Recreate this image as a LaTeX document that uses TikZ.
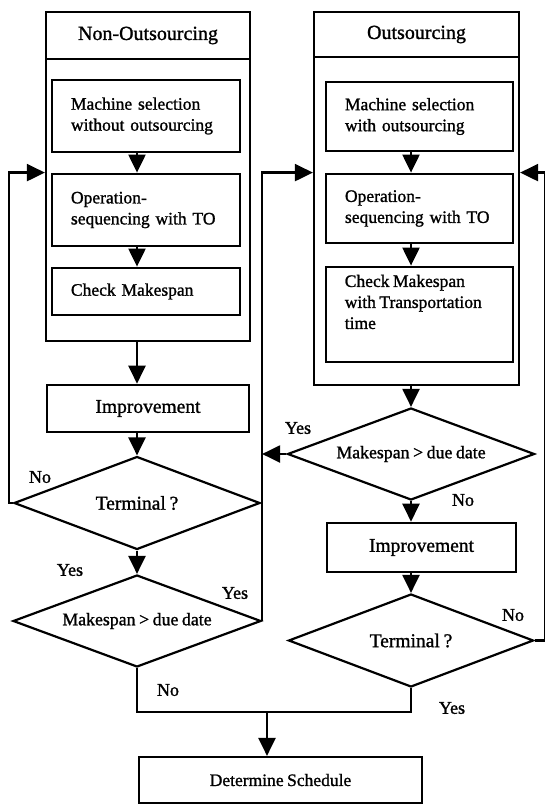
\documentclass[tikz,border=0pt]{standalone}
\usepackage{fontspec}
\setmainfont{Liberation Serif}[FakeBold=1.2,WordSpace=0.8]
\usetikzlibrary{arrows.meta,shapes.geometric}
\begin{document}
\begin{tikzpicture}[x=1pt,y=-1pt,
  line join=miter,
  ln/.style={line width=2.2pt},
  arr/.style={ln,-{Triangle[length=18pt,width=17pt]}},
  outerbox/.style={draw,ln,inner sep=0pt},
  titlebox/.style={draw,ln,inner sep=0pt,font=\fontsize{20}{22}\selectfont},
  innerbox/.style={draw,line width=2.8pt,inner ysep=0pt,inner xsep=19pt,align=left,
    font=\fontsize{17.5}{21}\selectfont},
  cbox/.style={draw,line width=2.6pt,inner sep=0pt,font=\fontsize{19.5}{22}\selectfont},
  dia/.style={draw,ln,diamond,aspect=2.65,inner sep=0pt},
  lbl/.style={inner sep=0pt,font=\fontsize{18}{20}\selectfont},
  ]
\useasboundingbox (0,0) rectangle (545,805);

% left column
\node[outerbox,minimum width=204,minimum height=329] (nob) at (148,176.5) {};
\node[titlebox,minimum width=204,minimum height=47,anchor=north] (not) at (nob.north) {Non-Outsourcing};
\node[innerbox,text width=150,minimum height=72] (m1) at (146,116) {Machine selection\\without outsourcing};
\node[innerbox,text width=150,minimum height=72] (o1) at (146,210) {Operation-\\sequencing with TO};
\node[innerbox,text width=150,minimum height=47] (c1) at (146,291.5) {Check Makespan};
\node[cbox,minimum width=202,minimum height=47] (imp1) at (148,408.5) {Improvement};
\node[dia,minimum width=246,minimum height=93,font=\fontsize{19.5}{22}\selectfont] (term1) at (137,503) {Terminal ?};
\node[dia,minimum width=248,minimum height=92,font=\fontsize{17.8}{20}\selectfont] (mk1) at (137,621) {Makespan > due date};

% right column
\node[outerbox,minimum width=205,minimum height=373] (oub) at (416.5,198.5) {};
\node[titlebox,minimum width=205,minimum height=45,anchor=north] (out) at (oub.north) {Outsourcing};
\node[innerbox,text width=149,minimum height=69] (m2) at (419.5,116.5) {Machine selection\\with outsourcing};
\node[innerbox,text width=149,minimum height=69] (o2) at (419.5,208.5) {Operation-\\sequencing with TO};
\node[draw,line width=2.8pt,minimum width=187,minimum height=95,inner sep=0pt] (c2) at (419.5,314.5) {};
\node[align=left,anchor=north west,inner sep=0pt,font=\fontsize{17.5}{21}\selectfont] (c2t) at ([xshift=20pt,yshift=-9pt]c2.north west) {Check Makespan\\with Transportation\\time};
\node[dia,minimum width=247,minimum height=92,font=\fontsize{17.8}{20}\selectfont] (mk2) at (411,454) {Makespan > due date};
\node[cbox,minimum width=189,minimum height=49] (imp2) at (421.5,547.5) {Improvement};
\node[dia,minimum width=245,minimum height=93,font=\fontsize{19.5}{22}\selectfont] (term2) at (411,640.5) {Terminal ?};

% final
\node[draw,ln,minimum width=283,minimum height=46,inner sep=0pt,font=\fontsize{17.5}{20}\selectfont] (det) at (280.5,780) {Determine Schedule};

% arrows left column
\draw[arr] (m1.south -| term1.north) -- (o1.north -| term1.north);
\draw[arr] (o1.south -| term1.north) -- (c1.north -| term1.north);
\draw[arr] (nob.south -| term1.north) -- (imp1.north -| term1.north);
\draw[arr] (imp1.south -| term1.north) -- (term1.north);
\draw[arr] (term1.south) -- (mk1.north);
\draw[arr] (term1.west) -- ++(-4,0) |- (nob.west |- o1.north);
\draw[arr] (mk1.east) |- (oub.west |- o2.north);

% arrows right column
\draw[arr] (m2.south -| mk2.north) -- (o2.north -| mk2.north);
\draw[arr] (o2.south -| mk2.north) -- (c2.north -| mk2.north);
\draw[arr] (oub.south -| mk2.north) -- (mk2.north);
\draw[arr] (mk2.west) -- (mk2.west -| mk1.east);
\draw[arr] (mk2.south) -- (mk2.south |- imp2.north);
\draw[arr] (imp2.south -| term2.north) -- (term2.north);
\draw[arr] (term2.east) -- ++(10,0) |- (oub.east |- o2.north);

% merge
\coordinate (mg) at (267,712);
\draw[ln] (mk1.south) -- (mk1.south |- mg) -- (term2.south |- mg) -- (term2.south);
\draw[arr] (mg) -- (mg |- det.north);

% labels
\node[lbl] (l1) at (40,477) {No};
\node[lbl] (l2) at (70,570) {Yes};
\node[lbl] (l3) at (235,593) {Yes};
\node[lbl] (l4) at (168,690) {No};
\node[lbl] (l5) at (298,428) {Yes};
\node[lbl] (l6) at (463,500) {No};
\node[lbl] (l7) at (513,615) {No};
\node[lbl] (l8) at (452,708) {Yes};
\end{tikzpicture}
\end{document}
